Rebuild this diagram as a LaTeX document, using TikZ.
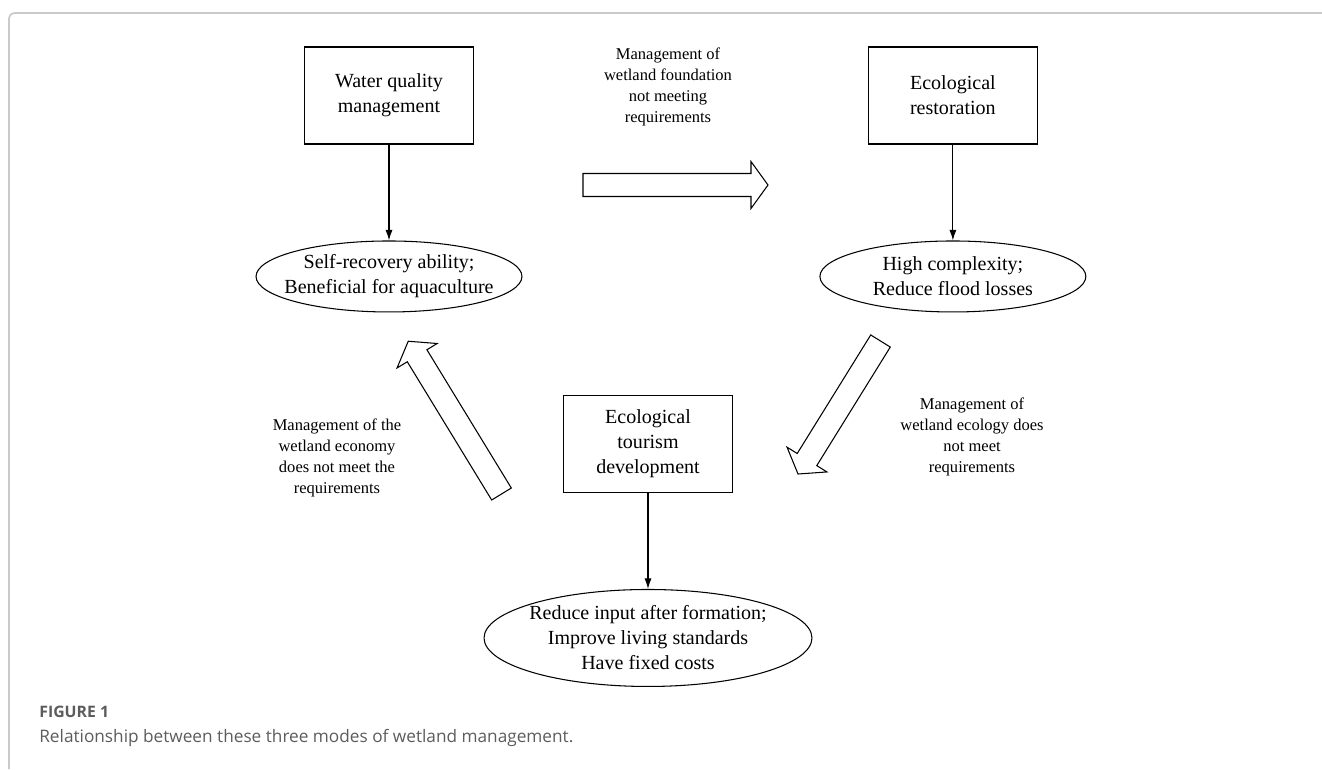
\documentclass[tikz,border=0pt]{standalone}
\usepackage{fontspec}
\setmainfont{Liberation Serif}
\newfontfamily\capfont{Open Sans}
\usepackage{xcolor}
\usepackage{tikz}
\usetikzlibrary{shapes.geometric,arrows.meta}

\definecolor{framegray}{HTML}{CACACA}
\definecolor{capgray}{HTML}{5C5C5C}

\tikzset{
  modebox/.style={draw, rectangle, line width=0.6pt, minimum width=3.38cm, minimum height=1.94cm,
    align=center, font=\fontsize{11.4}{14.2}\selectfont},
  effect/.style={draw, ellipse, line width=0.6pt, inner xsep=-1.5cm, inner ysep=-0.4cm,
    align=center, font=\fontsize{11.4}{14.2}\selectfont},
  cond/.style={align=center, font=\fontsize{9.4}{11.9}\selectfont},
  caption/.style={anchor=west, inner sep=0pt, text=capgray},
  pics/fatarrow/.style={code={
    \draw[line width=0.6pt, fill=white] (0,-11.5) -- ({#1-17},-11.5) -- ({#1-17},-23.5) -- (#1,0)
      -- ({#1-17},23.5) -- ({#1-17},11.5) -- (0,11.5) -- cycle;}}
}

\begin{document}
\begin{tikzpicture}[>={Latex[length=6pt,width=4pt]}, x=0.02cm, y=-0.02cm]
  \useasboundingbox (0,0) rectangle (1322,769);
  \draw[framegray, line width=1pt, rounded corners=3pt] (9,769) -- (9,13) -- (1322,13);

  \node[modebox] (W) at (389,95.5) {Water quality\\management};
  \node[modebox, right of=W, node distance=11.28cm] (R) {Ecological\\restoration};
  \node[modebox] (T) at (648,444) {Ecological\\tourism\\development};

  \node[effect, minimum width=5.32cm, minimum height=1.42cm, below of=W, node distance=3.62cm] (WE)
    {Self-recovery ability;\\Beneficial for aquaculture};
  \node[effect, minimum width=5.32cm, minimum height=1.42cm, below of=R, node distance=3.62cm] (RE)
    {High complexity;\\Reduce flood losses};
  \node[effect, minimum width=6.56cm, minimum height=1.94cm, below of=T, node distance=3.88cm] (TE)
    {Reduce input after formation;\\Improve living standards\\Have fixed costs};

  \draw [->, line width=0.6pt] (W) -- (WE);
  \draw [->, line width=0.6pt] (R) -- (RE);
  \draw [->, line width=0.6pt] (T) -- (TE);

  \node[cond] (Ltop) at (668,87) {Management of\\wetland foundation\\not meeting\\requirements};
  \node[cond] (Lright) at (972,437) {Management of\\wetland ecology does\\not meet\\requirements};
  \node[cond] (Lleft) at (337,458) {Management of the\\wetland economy\\does not meet the\\requirements};

  \pic at (583,185) {fatarrow=185};
  \pic[rotate=-121.8] at (880.5,341) {fatarrow=156.5};
  \pic[rotate=121.4] at (501.5,494) {fatarrow=179};

  \node[caption, font=\capfont\bfseries\fontsize{9}{11}\selectfont] (fig) at (39,712) {FIGURE 1};
  \node[caption, font=\capfont\fontsize{9.8}{12}\selectfont] (cap) at (39,738)
    {Relationship between these three modes of wetland management.};
\end{tikzpicture}
\end{document}
